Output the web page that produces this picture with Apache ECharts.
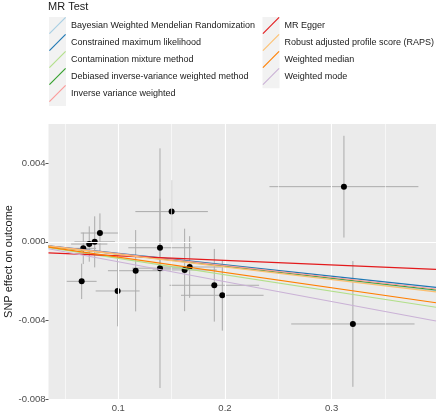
<!DOCTYPE html>
<html>
<head>
<meta charset="utf-8">
<script src="https://cdn.jsdelivr.net/npm/echarts@6/dist/echarts.min.js"></script>
<style>html,body{margin:0;padding:0;background:#fff;}#c{width:440px;height:416px;}</style>
</head>
<body>
<div id="c"></div>
<script>
// ---- data ----
var snpX = [0.0672, 0.0728, 0.0779, 0.0828, 0.0657, 0.0994, 0.1163, 0.1391, 0.1391, 0.1500, 0.1622, 0.1669, 0.1900, 0.1975, 0.3115, 0.3199];
var snpY = [-0.00033, -0.00011, 0.00000, 0.00045, -0.00201, -0.00250, -0.00147, -0.00030, -0.00134, 0.00154, -0.00143, -0.00128, -0.00221, -0.00272, 0.00281, -0.00418];
var seX = [0.0120, 0.0170, 0.0190, 0.0180, 0.0140, 0.0206, 0.0260, 0.0297, 0.0260, 0.0340, 0.0300, 0.0300, 0.0420, 0.0387, 0.0698, 0.0578];
var seY = [0.0008, 0.0009, 0.0013, 0.0010, 0.0009, 0.0018, 0.00207, 0.0025, 0.0061, 0.0016, 0.0021, 0.00157, 0.00185, 0.0018, 0.00259, 0.0032];
var methods = ['Bayesian Weighted Mendelian Randomization', 'Constrained maximum likelihood', 'Contamination mixture method', 'Debiased inverse-variance weighted method', 'Inverse variance weighted', 'MR Egger', 'Robust adjusted profile score (RAPS)', 'Weighted median', 'Weighted mode'];
var slopes = [-0.00628, -0.00583, -0.00837, -0.00616, -0.00603, -0.00231, -0.00640, -0.00779, -0.01013];
var intercepts = [0, 0, 0, 0, 0, -0.00048, 0, 0, 0];
var colors = ['#A6CEE3', '#1F78B4', '#B2DF8A', '#33A02C', '#FB9A99', '#E31A1C', '#FDBF6F', '#FF7F00', '#CAB2D6'];
var xMin = 0.0346, xMax = 0.3978;
var yMin = -0.008, yMax = 0.006;
var xTicks = [0.1, 0.2, 0.3];
var yTicks = [-0.008, -0.004, 0.000, 0.004];
var minorX = [0.05, 0.15, 0.25, 0.35];
var minorY = [-0.006, -0.002, 0.002];

var FONT = 'Liberation Sans, Arial, sans-serif';
var chart = echarts.init(document.getElementById('c'), null, {renderer: 'canvas'});

var errData = snpX.map(function (x, i) { return [x, snpY[i], seX[i], seY[i]]; });
var ptData = snpX.map(function (x, i) { return [x, snpY[i]]; });

var series = [];
// grid lines (minor and major)
series.push({
  type: 'line', data: [], z: 1, silent: true,
  markLine: {
    silent: true, symbol: 'none', animation: false,
    label: {show: false},
    lineStyle: {color: '#FFFFFF', width: 0.6, type: 'solid'},
    data: minorX.map(function (v) { return {xAxis: v}; }).concat(minorY.map(function (v) { return {yAxis: v}; }))
  }
});
series.push({
  type: 'line', data: [], z: 1, silent: true,
  markLine: {
    silent: true, symbol: 'none', animation: false,
    label: {show: false},
    lineStyle: {color: '#FFFFFF', width: 1.1, type: 'solid'},
    data: xTicks.map(function (v) { return {xAxis: v}; }).concat(yTicks.map(function (v) { return {yAxis: v}; }))
  }
});
// error bars
series.push({
  type: 'custom', z: 3, silent: true, clip: true,
  data: errData,
  encode: {x: 0, y: 1},
  renderItem: function (params, api) {
    var x = api.value(0), y = api.value(1), sx = api.value(2), sy = api.value(3);
    var h1 = api.coord([x - sx, y]), h2 = api.coord([x + sx, y]);
    var v1 = api.coord([x, y - sy]), v2 = api.coord([x, y + sy]);
    var st = {stroke: '#ABABAB', lineWidth: 1};
    return {type: 'group', children: [
      {type: 'line', shape: {x1: h1[0], y1: h1[1], x2: h2[0], y2: h2[1]}, style: st},
      {type: 'line', shape: {x1: v1[0], y1: v1[1], x2: v2[0], y2: v2[1]}, style: st}
    ]};
  }
});
// points
series.push({
  type: 'scatter', z: 4, silent: true, data: ptData, symbolSize: 6,
  itemStyle: {color: '#000000', opacity: 1}
});
// method lines
methods.forEach(function (m, i) {
  series.push({
    name: m, type: 'line', z: 5 + i, silent: true, showSymbol: false, symbol: 'none',
    color: colors[i],
    lineStyle: {color: colors[i], width: 1.2},
    itemStyle: {color: colors[i]},
    data: [[xMin, intercepts[i] + slopes[i] * xMin], [xMax, intercepts[i] + slopes[i] * xMax]],
    animation: false
  });
});

var legendBase = {
  orient: 'vertical', top: 17, itemWidth: 17, itemHeight: 17.8, itemGap: 0, itemTextGap: 6.5,
  icon: 'path://M0,16.2L16.2,0L17,0.8L0.8,17Z', padding: 0, selectedMode: false,
  textStyle: {fontSize: 9, color: '#1a1a1a', fontFamily: FONT}
};

chart.setOption({
  animation: false,
  backgroundColor: '#ffffff',
  textStyle: {fontFamily: FONT},
  title: {text: 'MR Test', left: 48, top: 1, padding: 0,
    textStyle: {fontSize: 11, fontWeight: 'normal', color: '#1a1a1a', fontFamily: FONT}},
  graphic: [
    {type: 'rect', z: 0, shape: {x: 49, y: 17, width: 17, height: 89}, style: {fill: '#F2F2F2'}},
    {type: 'rect', z: 0, shape: {x: 262.5, y: 17, width: 17, height: 71.2}, style: {fill: '#F2F2F2'}}
  ],
  legend: [
    Object.assign({}, legendBase, {left: 49, data: methods.slice(0, 5)}),
    Object.assign({}, legendBase, {left: 262.5, data: methods.slice(5)})
  ],
  grid: {left: 48.5, top: 124, width: 387.5, height: 275, show: true, backgroundColor: '#EBEBEB', borderWidth: 0,
    containLabel: false, outerBoundsMode: 'none'},
  xAxis: {
    type: 'value', min: xMin, max: xMax,
    axisLine: {show: false},
    axisTick: {show: true, length: 3, customValues: xTicks, lineStyle: {color: '#555555', width: 1}},
    splitLine: {show: false},
    axisLabel: {fontSize: 9.5, color: '#4D4D4D', margin: 4, fontFamily: FONT, customValues: xTicks,
      formatter: function (v) { return (+v).toFixed(1); }}
  },
  yAxis: {
    type: 'value', min: yMin, max: yMax,
    name: 'SNP effect on outcome', nameLocation: 'middle', nameRotate: 90, nameGap: 34.5,
    nameMoveOverlap: false,
    nameTextStyle: {fontSize: 11, color: '#1a1a1a', fontFamily: FONT},
    axisLine: {show: false},
    axisTick: {show: true, length: 3, customValues: yTicks, lineStyle: {color: '#555555', width: 1}},
    splitLine: {show: false},
    axisLabel: {fontSize: 9.5, color: '#4D4D4D', margin: 3, fontFamily: FONT, customValues: yTicks,
      formatter: function (v) { var s = (+v).toFixed(3); return s === '-0.000' ? '0.000' : s; }}
  },
  series: series
});
</script>
</body>
</html>
